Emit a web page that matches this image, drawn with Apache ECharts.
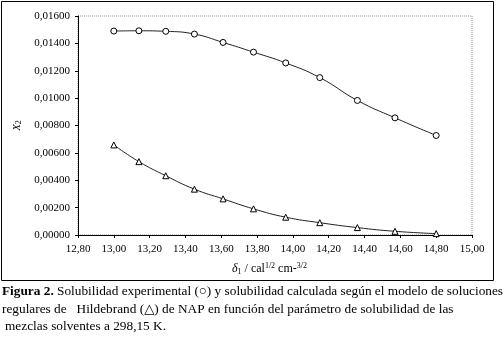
<!DOCTYPE html>
<html>
<head>
<meta charset="utf-8">
<script src="https://cdn.jsdelivr.net/npm/echarts@6/dist/echarts.min.js"></script>
<style>
  html, body { margin: 0; padding: 0; background: #fff; }
  #chart { width: 504px; height: 348px; }
</style>
</head>
<body>
<div id="chart"></div>
<script>
// parámetro de solubilidad de las mezclas (δ1)
const delta1 = [13.00, 13.14, 13.29, 13.45, 13.61, 13.78, 13.96, 14.15, 14.36, 14.57, 14.80];
// solubilidad experimental (círculos)
const xExperimental = [0.01490, 0.01492, 0.01488, 0.01468, 0.01407, 0.01336, 0.01257, 0.01150, 0.00983, 0.00856, 0.00727];
// solubilidad calculada, Hildebrand (triángulos)
const xHildebrand = [0.00658, 0.00536, 0.00433, 0.00335, 0.00264, 0.00191, 0.00130, 0.00090, 0.00054, 0.00027, 0.00010];

const SERIF = '"Liberation Serif", "DejaVu Serif", serif';

const chart = echarts.init(document.getElementById('chart'), null, { renderer: 'canvas' });

const pairs = (xs, ys) => xs.map((x, i) => [x, ys[i]]);

const option = {
  animation: false,
  backgroundColor: '#fff',
  grid: {
    left: 78, right: 32, top: 16, bottom: 113,
    show: true,
    borderColor: '#9a9a9a',
    borderWidth: 1,
    borderType: [1, 1]
  },
  xAxis: {
    type: 'value',
    min: 12.8, max: 15.0, interval: 0.2,
    splitLine: { show: false },
    axisLine: { lineStyle: { color: '#000', width: 1 } },
    axisTick: { length: 3, lineStyle: { color: '#000' } },
    axisLabel: {
      color: '#000', fontFamily: SERIF, fontSize: 11, margin: 9,
      formatter: v => v.toFixed(2).replace('.', ',')
    }
  },
  yAxis: {
    type: 'value',
    min: 0, max: 0.016, interval: 0.002,
    splitLine: { show: false },
    axisLine: { show: true, lineStyle: { color: '#000', width: 1 } },
    axisTick: { show: true, length: 3, lineStyle: { color: '#000' } },
    axisLabel: {
      color: '#000', fontFamily: SERIF, fontSize: 11, margin: 8,
      formatter: v => v.toFixed(5).replace('.', ',')
    },
    name: '{x|X}{s|2}',
    nameLocation: 'middle',
    nameRotate: 90,
    nameGap: 54,
    nameTextStyle: {
      rich: {
        x: { fontFamily: SERIF, fontStyle: 'italic', fontSize: 11, color: '#000' },
        s: { fontFamily: SERIF, fontSize: 8, color: '#000', padding: [5, 0, 0, 0] }
      }
    }
  },
  series: [
    {
      type: 'line',
      data: pairs(delta1, xExperimental),
      smooth: 0.5,
      symbol: 'circle',
      symbolSize: 6,
      itemStyle: { color: '#fff', borderColor: '#000', borderWidth: 1 },
      lineStyle: { color: '#222', width: 1 }
    },
    {
      type: 'line',
      data: pairs(delta1, xHildebrand),
      smooth: 0.5,
      symbol: 'triangle',
      symbolSize: 6,
      itemStyle: { color: '#fff', borderColor: '#000', borderWidth: 1 },
      lineStyle: { color: '#222', width: 1 }
    }
  ],
  graphic: [
    {
      type: 'rect', silent: true, z: 10,
      shape: { x: 1.5, y: 1.5, width: 492, height: 279 },
      style: { fill: null, stroke: '#000', lineWidth: 1 }
    },
    {
      type: 'text', left: 232, top: 262, z: 10,
      style: {
        text: '{d|δ}{s|1}{t| / cal}{p|1/2}{t| cm-}{p|3/2}',
        rich: {
          d: { fontFamily: SERIF, fontStyle: 'italic', fontSize: 12, fill: '#000' },
          s: { fontFamily: SERIF, fontSize: 8, fill: '#000', padding: [5, 0, 0, 0] },
          t: { fontFamily: SERIF, fontSize: 12, fill: '#000' },
          p: { fontFamily: SERIF, fontSize: 8, fill: '#000', padding: [0, 0, 6, 0] }
        }
      }
    },
    {
      type: 'text', left: 2, top: 285, z: 10,
      style: {
        text: '{b|Figura 2.}{n| Solubilidad experimental (○) y solubilidad calculada según el modelo de soluciones}',
        rich: {
          b: { fontFamily: SERIF, fontWeight: 'bold', fontSize: 13.3, fill: '#000' },
          n: { fontFamily: SERIF, fontSize: 13.3, fill: '#000' }
        }
      }
    },
    {
      type: 'text', left: 2, top: 303, z: 10,
      style: {
        text: 'regulares de   Hildebrand (△) de NAP en función del parámetro de solubilidad de las',
        fontFamily: SERIF, fontSize: 13.3, fill: '#000'
      }
    },
    {
      type: 'text', left: 5, top: 320, z: 10,
      style: {
        text: 'mezclas solventes a 298,15 K.',
        fontFamily: SERIF, fontSize: 13.3, fill: '#000'
      }
    }
  ]
};

chart.setOption(option);
</script>
</body>
</html>
